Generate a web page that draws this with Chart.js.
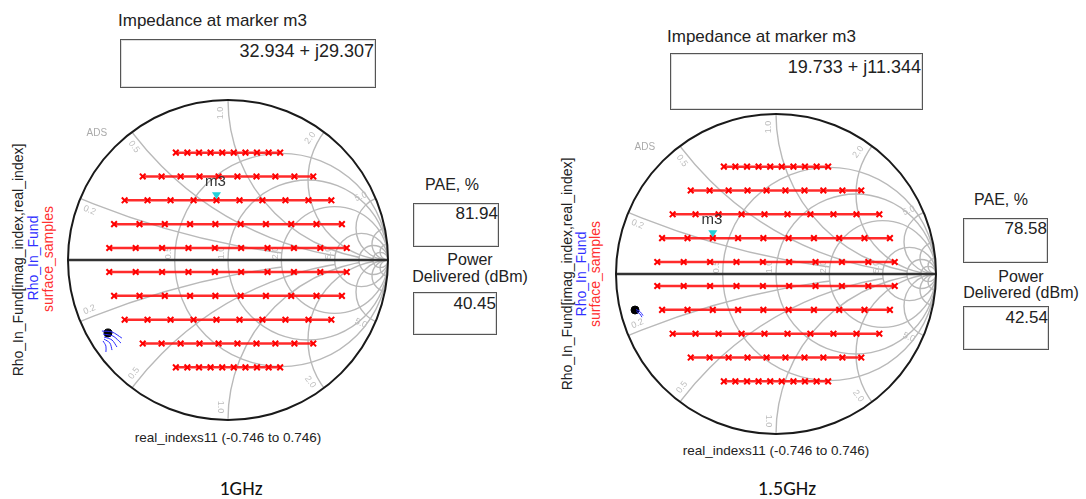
<!DOCTYPE html>
<html>
<head>
<meta charset="utf-8">
<title>Load pull 1GHz / 1.5GHz</title>
<script src="https://cdn.jsdelivr.net/npm/chart.js@4.4.1/dist/chart.umd.min.js"></script>
<style>
body { margin:0; width:1086px; height:499px; background:#fff; position:relative; overflow:hidden;
       font-family:"Liberation Sans", Arial, sans-serif; color:#222; }
.lbl { position:absolute; white-space:nowrap; transform:translateY(-50%); }
.ctr { position:absolute; white-space:nowrap; transform:translate(-50%,-50%); }
.rot { position:absolute; white-space:nowrap; transform:translate(-50%,-50%) rotate(-90deg); font-size:14px; line-height:14px; }
.box { position:absolute; border:1.5px solid #555; box-sizing:border-box; background:#fff; box-shadow:inset 0 0 0 1px #ddd; }
.val { position:absolute; right:1px; white-space:nowrap; transform:translateY(-50%); color:#222; }
.plot { position:absolute; }
.freq { font-family:Carlito, "Open Sans", sans-serif; font-size:20px; color:#111; }
</style>
</head>
<body>

<!-- 1 GHz -->
<div class="lbl" style="left:118px; top:21px; font-size:17px;">Impedance at marker m3</div>
<div class="box" style="left:120px; top:39px; width:256px; height:49px;">
  <div class="val" style="top:11px; font-size:18px;">32.934 + j29.307</div>
</div>
<div class="ctr" style="left:452px; top:185px; font-size:16px;">PAE, %</div>
<div class="box" style="left:413px; top:203px; width:86px; height:44px;">
  <div class="val" style="top:10px; font-size:17px; right:0;">81.94</div>
</div>
<div class="ctr" style="left:470px; top:260px; font-size:16px;">Power</div>
<div class="ctr" style="left:470px; top:277px; font-size:16px;">Delivered (dBm)</div>
<div class="box" style="left:413px; top:292px; width:84px; height:43px;">
  <div class="val" style="top:11px; font-size:17px; right:0;">40.45</div>
</div>
<div class="rot" style="left:18px; top:260px; color:#222;">Rho_In_Fund[imag_index,real_index]</div>
<div class="rot" style="left:33px; top:258px; color:#3030ff;">Rho_In_Fund</div>
<div class="rot" style="left:48px; top:259px; color:#ff3030;">surface_samples</div>
<div class="ctr" style="left:228px; top:437px; font-size:13.5px;">real_indexs11 (-0.746 to 0.746)</div>
<div class="ctr freq" style="left:241px; top:488px;">1GHz</div>
<div class="plot" style="left:48px; top:80px;"><canvas id="smith1" width="360" height="360"></canvas></div>

<!-- 1.5 GHz -->
<div class="lbl" style="left:667px; top:37px; font-size:17px;">Impedance at marker m3</div>
<div class="box" style="left:670px; top:53px; width:253px; height:57px;">
  <div class="val" style="top:13px; font-size:18px;">19.733 + j11.344</div>
</div>
<div class="ctr" style="left:1001px; top:200px; font-size:16px;">PAE, %</div>
<div class="box" style="left:963px; top:218px; width:85px; height:45px;">
  <div class="val" style="top:10px; font-size:17px; right:0;">78.58</div>
</div>
<div class="ctr" style="left:1021px; top:277px; font-size:16px;">Power</div>
<div class="ctr" style="left:1021px; top:293px; font-size:16px;">Delivered (dBm)</div>
<div class="box" style="left:963px; top:306px; width:86px; height:44px;">
  <div class="val" style="top:11px; font-size:17px; right:0;">42.54</div>
</div>
<div class="rot" style="left:567px; top:274px; color:#222;">Rho_In_Fund[imag_index,real_index]</div>
<div class="rot" style="left:581px; top:274px; color:#3030ff;">Rho_In_Fund</div>
<div class="rot" style="left:595px; top:274px; color:#ff3030;">surface_samples</div>
<div class="ctr" style="left:776px; top:450px; font-size:13.5px;">real_indexs11 (-0.746 to 0.746)</div>
<div class="ctr freq" style="left:787px; top:488px;">1.5GHz</div>
<div class="plot" style="left:596px; top:94px;"><canvas id="smith2" width="360" height="360"></canvas></div>

<script>
// surface_samples: reflection coefficient grid (same for both frequencies)
const rowIm = [0.671, 0.522, 0.373, 0.224, 0.075, -0.075, -0.224, -0.373, -0.522, -0.671];
const rowRe = [
    [-0.326, -0.254, -0.181, -0.109, -0.036, 0.036, 0.109, 0.181, 0.254, 0.326],
    [-0.533, -0.415, -0.296, -0.178, -0.059, 0.059, 0.178, 0.296, 0.415, 0.533],
    [-0.646, -0.503, -0.359, -0.215, -0.072, 0.072, 0.215, 0.359, 0.503, 0.646],
    [-0.712, -0.553, -0.395, -0.237, -0.079, 0.079, 0.237, 0.395, 0.553, 0.712],
    [-0.742, -0.577, -0.412, -0.247, -0.082, 0.082, 0.247, 0.412, 0.577, 0.742],
    [-0.742, -0.577, -0.412, -0.247, -0.082, 0.082, 0.247, 0.412, 0.577, 0.742],
    [-0.712, -0.553, -0.395, -0.237, -0.079, 0.079, 0.237, 0.395, 0.553, 0.712],
    [-0.646, -0.503, -0.359, -0.215, -0.072, 0.072, 0.215, 0.359, 0.503, 0.646],
    [-0.533, -0.415, -0.296, -0.178, -0.059, 0.059, 0.178, 0.296, 0.415, 0.533],
    [-0.326, -0.254, -0.181, -0.109, -0.036, 0.036, 0.109, 0.181, 0.254, 0.326]
];

// marker m3 (gamma re, im)
const markerM3_1G = [-0.072, 0.373];
const markerM3_15G = [-0.395, 0.224];

// Rho_In_Fund trace (black start point + short blue strands)
const rhoDot_1G = [-0.75, -0.456];
const rhoStrands_1G = [
    [[-0.788, -0.444], [-0.725, -0.45], [-0.663, -0.488]],
    [[-0.781, -0.463], [-0.719, -0.475], [-0.669, -0.519]],
    [[-0.775, -0.481], [-0.725, -0.5], [-0.694, -0.544]],
    [[-0.775, -0.494], [-0.738, -0.519], [-0.725, -0.563]],
    [[-0.781, -0.506], [-0.763, -0.538], [-0.763, -0.575]]
];
const rhoDot_15G = [-0.881, -0.225];
const rhoStrands_15G = [
    [[-0.875, -0.222], [-0.85, -0.235], [-0.831, -0.26]],
    [[-0.872, -0.235], [-0.85, -0.25], [-0.838, -0.27]]
];

// smith grid: resistance circles, reactance arcs and where each arc stops
const smithR = [0.5, 1, 2, 5, 10, 20];
const smithX = [0.2, 0.5, 1, 2, 5, 10, 20];
const smithXStop = [2, 5, 10, 20, 50, 0, 0];
const edgeLabels = ['0.2', '0.5', '1.0', '2.0', '5.0'];
const axisLabels = [0.5, 1, 2, 5];


const smithGrid = {
    id: 'smithGrid',
    beforeDatasetsDraw(chart) {
        const ctx = chart.ctx;
        const sx = chart.scales.x, sy = chart.scales.y;
        const cx = sx.getPixelForValue(0), cy = sy.getPixelForValue(0);
        const R = sx.getPixelForValue(1) - cx;

        ctx.save();
        ctx.strokeStyle = '#b9b9b9';
        ctx.lineWidth = 1.4;

        // resistance circles
        ctx.save();
        ctx.beginPath();
        ctx.arc(cx, cy, R, 0, Math.PI * 2);
        ctx.clip();
        smithR.forEach(r => {
            ctx.beginPath();
            ctx.arc(cx + R * r / (1 + r), cy, R / (1 + r), 0, Math.PI * 2);
            ctx.stroke();
        });
        ctx.restore();

        // reactance arcs
        smithX.forEach((xv, i) => {
            const stop = smithXStop[i];
            [1, -1].forEach(sign => {
                ctx.save();
                ctx.beginPath();
                ctx.arc(cx, cy, R, 0, Math.PI * 2);
                if (stop) {
                    const sc = cx + R * stop / (1 + stop), sr = R / (1 + stop);
                    ctx.moveTo(sc + sr, cy);
                    ctx.arc(sc, cy, sr, 0, Math.PI * 2, true);
                }
                ctx.clip('evenodd');
                ctx.beginPath();
                ctx.arc(cx + R, cy - sign * R / xv, R / xv, 0, Math.PI * 2);
                ctx.stroke();
                ctx.restore();
            });
        });

        // edge labels
        ctx.fillStyle = '#bdbdbd';
        ctx.font = '9px "Liberation Sans", Arial';
        ctx.textAlign = 'center';
        ctx.textBaseline = 'middle';
        smithX.slice(0, 5).forEach((xv, i) => {
            [1, -1].forEach(sign => {
                const th = Math.atan2(sign * 2 * xv / (xv * xv + 1), (xv * xv - 1) / (xv * xv + 1));
                const px = cx + R * 0.92 * Math.cos(th + sign * 0.05);
                const py = cy - R * 0.92 * Math.sin(th + sign * 0.05);
                ctx.save();
                ctx.translate(px, py);
                let rot = -th;
                if (rot > Math.PI / 2) rot -= Math.PI;
                if (rot < -Math.PI / 2) rot += Math.PI;
                ctx.rotate(rot);
                ctx.fillText(edgeLabels[i], 0, 0);
                ctx.restore();
            });
        });
        axisLabels.forEach(r => {
            const px = cx + R * (r - 1) / (r + 1) - 6;
            ctx.save();
            ctx.translate(px, cy - 7);
            ctx.rotate(-Math.PI / 2);
            ctx.fillText(r.toFixed(1), 0, 0);
            ctx.restore();
        });

        // ADS tag
        ctx.font = '10px "Liberation Sans", Arial';
        ctx.fillStyle = '#aaaaaa';
        ctx.fillText('ADS', sx.getPixelForValue(-0.82), sy.getPixelForValue(0.79));

        // real axis and outline
        ctx.strokeStyle = '#333';
        ctx.lineWidth = 2.5;
        ctx.beginPath();
        ctx.moveTo(cx - R, cy);
        ctx.lineTo(cx + R, cy);
        ctx.stroke();
        ctx.strokeStyle = '#1a1a1a';
        ctx.lineWidth = 2;
        ctx.beginPath();
        ctx.arc(cx, cy, R, 0, Math.PI * 2);
        ctx.stroke();
        ctx.restore();
    },
    afterDatasetsDraw(chart, args, opts) {
        if (!opts.marker) return;
        const ctx = chart.ctx;
        const px = chart.scales.x.getPixelForValue(opts.marker[0]);
        const py = chart.scales.y.getPixelForValue(opts.marker[1]);
        ctx.save();
        ctx.fillStyle = '#22d0d8';
        ctx.beginPath();
        ctx.moveTo(px, py - 1);
        ctx.lineTo(px - 4.5, py - 8);
        ctx.lineTo(px + 4.5, py - 8);
        ctx.closePath();
        ctx.fill();
        ctx.fillStyle = '#333';
        ctx.font = '15px "Liberation Sans", Arial';
        ctx.textAlign = 'center';
        ctx.textBaseline = 'middle';
        ctx.fillText('m3', px - 1, py - 18);
        ctx.restore();
    }
};


function buildDatasets(dot, strands) {
    const sets = [];
    rowIm.forEach((im, i) => {
        sets.push({
            data: rowRe[i].map(re => ({x: re, y: im})),
            showLine: true,
            borderColor: 'rgba(255, 20, 20, 0.9)',
            borderWidth: 2.5,
            pointStyle: 'crossRot',
            pointRadius: 4,
            pointBorderWidth: 2,
            pointBorderColor: '#ff0000',
            pointBackgroundColor: '#ff0000'
        });
    });
    strands.forEach(s => {
        sets.push({
            data: s.map(p => ({x: p[0], y: p[1]})),
            showLine: true,
            borderColor: '#2a2aff',
            borderWidth: 1,
            pointRadius: 0,
            tension: 0.3
        });
    });
    sets.push({
        data: [{x: dot[0], y: dot[1]}],
        pointRadius: 4,
        pointBackgroundColor: '#000',
        pointBorderColor: '#000'
    });
    return sets;
}


function makeSmith(id, dot, strands, marker) {
    const ctx = document.getElementById(id).getContext('2d');
    return new Chart(ctx, {
        type: 'scatter',
        data: { datasets: buildDatasets(dot, strands) },
        options: {
            responsive: false,
            animation: false,
            layout: { padding: 20 },
            scales: {
                x: { min: -1, max: 1, display: false },
                y: { min: -1, max: 1, display: false }
            },
            plugins: {
                legend: { display: false },
                tooltip: { enabled: false },
                smithGrid: { marker: marker }
            }
        },
        plugins: [smithGrid]
    });
}

makeSmith('smith1', rhoDot_1G, rhoStrands_1G, markerM3_1G);
makeSmith('smith2', rhoDot_15G, rhoStrands_15G, markerM3_15G);
</script>
</body>
</html>
